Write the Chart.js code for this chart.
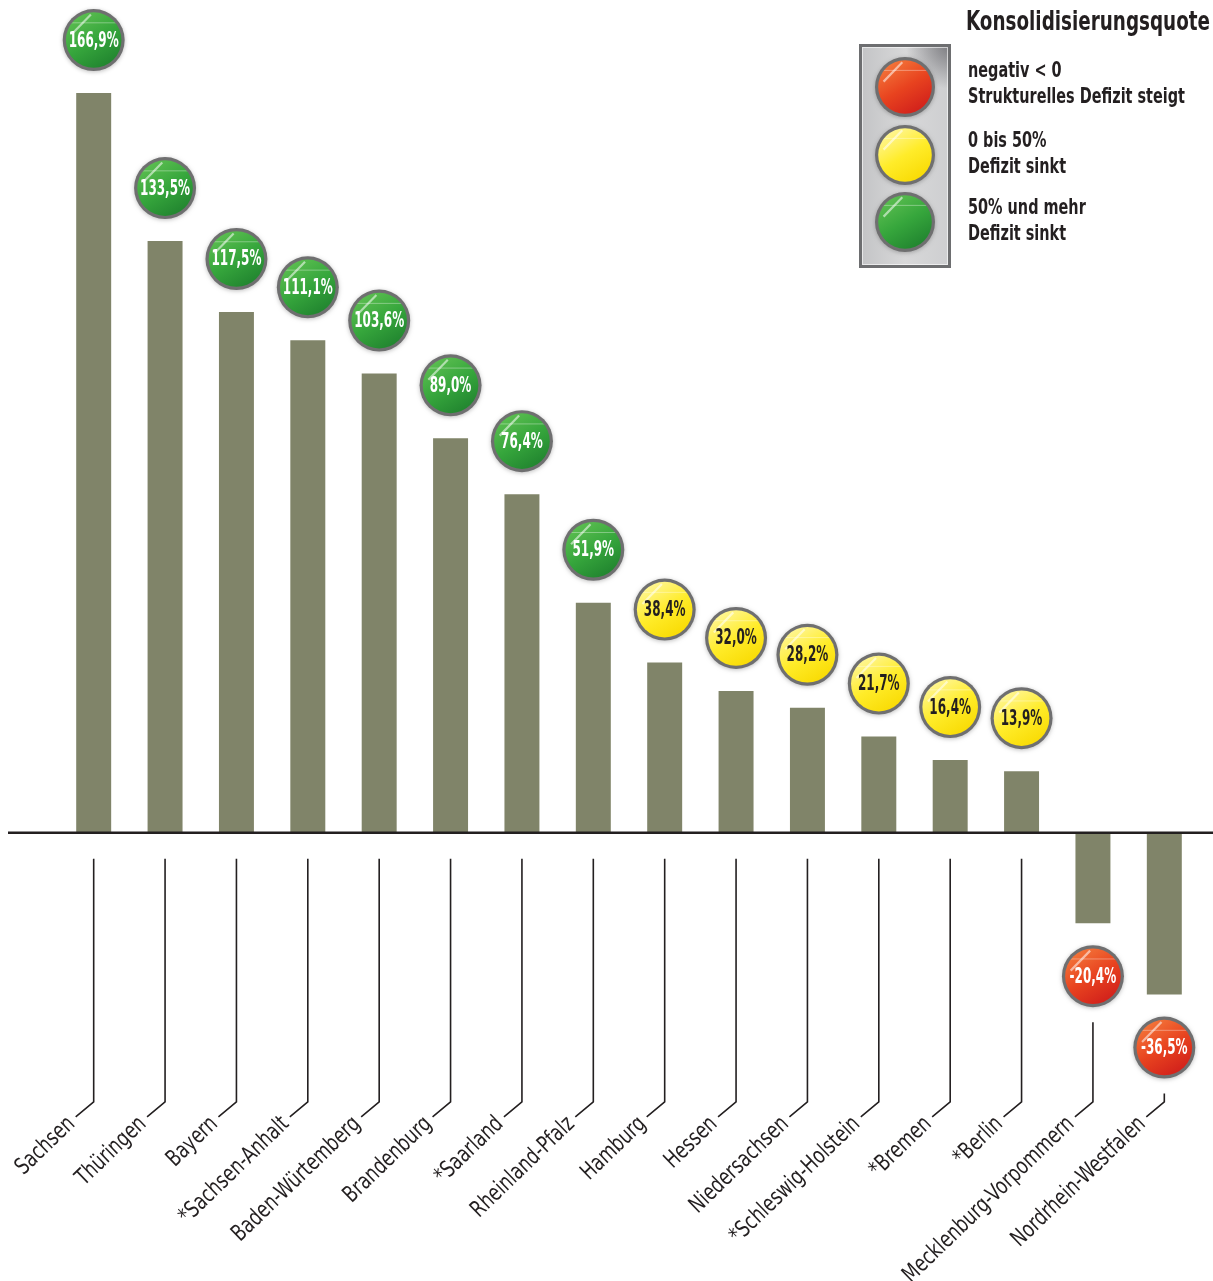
<!DOCTYPE html>
<html>
<head>
<meta charset="utf-8">
<script src="https://cdn.jsdelivr.net/npm/chart.js@4"></script>
<style>
  html, body { margin: 0; padding: 0; background: #ffffff; }
  #wrap { width: 1213px; height: 1281px; }
</style>
</head>
<body>
<div id="wrap"><canvas id="c" width="1213" height="1281"></canvas></div>
<script>
// ---- data ----
const categories = ['Sachsen', 'Thüringen', 'Bayern', '*Sachsen-Anhalt', 'Baden-Würtemberg', 'Brandenburg',
  '*Saarland', 'Rheinland-Pfalz', 'Hamburg', 'Hessen', 'Niedersachsen', '*Schleswig-Holstein',
  '*Bremen', '*Berlin', 'Mecklenburg-Vorpommern', 'Nordrhein-Westfalen'];
const values = [166.9, 133.5, 117.5, 111.1, 103.6, 89.0, 76.4, 51.9, 38.4, 32.0, 28.2, 21.7, 16.4, 13.9, -20.4, -36.5];
const legendTitle = 'Konsolidisierungsquote';
const legendLines = [
  ['negativ < 0', 'Strukturelles Defizit steigt'],
  ['0 bis 50%', 'Defizit sinkt'],
  ['50% und mehr', 'Defizit sinkt']
];
const thresholds = [0, 50];

// ---- styling ----
const NARROW = '"Liberation Sans Narrow", "DejaVu Sans Condensed", "Arial Narrow", sans-serif';
const BAR_COLOR = '#808469';
const INK = '#231f20';
const palettes = {
  red:    { stops: ['#f47a3c', '#e8431f', '#cf1d1b'], text: '#ffffff' },
  yellow: { stops: ['#fff7a0', '#ffec2a', '#f8d900'], text: '#231f20' },
  green:  { stops: ['#5fc052', '#36a63c', '#1f812e'], text: '#ffffff' }
};
function classify(v) {
  if (v < thresholds[0]) return 'red';
  if (v < thresholds[1]) return 'yellow';
  return 'green';
}
function fmt(v) { return v.toFixed(1).replace('.', ',') + '%'; }

function fitScale(ctx, font, sample, target) {
  ctx.save();
  ctx.font = font;
  const w = ctx.measureText(sample).width;
  ctx.restore();
  return Math.min(1, target / w);
}

function drawBall(ctx, x, y, r, kind) {
  const p = palettes[kind];
  ctx.save();
  ctx.shadowColor = 'rgba(0,0,0,0.25)';
  ctx.shadowBlur = 4;
  ctx.shadowOffsetY = 1;
  ctx.beginPath();
  ctx.arc(x, y, r, 0, Math.PI * 2);
  ctx.fillStyle = '#6f6f70';
  ctx.fill();
  ctx.restore();
  const ri = r - 3.2;
  const g = ctx.createLinearGradient(x - ri * 0.6, y - ri, x + ri * 0.6, y + ri);
  g.addColorStop(0, p.stops[0]);
  g.addColorStop(0.5, p.stops[1]);
  g.addColorStop(1, p.stops[2]);
  ctx.beginPath();
  ctx.arc(x, y, ri, 0, Math.PI * 2);
  ctx.fillStyle = g;
  ctx.fill();
  // gloss highlight
  ctx.save();
  ctx.beginPath();
  ctx.arc(x, y, ri, 0, Math.PI * 2);
  ctx.clip();
  ctx.strokeStyle = 'rgba(255,255,255,0.55)';
  ctx.lineWidth = 2.2;
  ctx.beginPath();
  ctx.moveTo(x - ri * 0.8, y - ri * 0.2);
  ctx.lineTo(x - ri * 0.1, y - ri * 0.92);
  ctx.stroke();
  ctx.strokeStyle = 'rgba(255,255,255,0.35)';
  ctx.lineWidth = 1;
  ctx.beginPath();
  ctx.moveTo(x - ri, y - ri * 0.62);
  ctx.lineTo(x + ri, y - ri * 0.62);
  ctx.stroke();
  ctx.restore();
}

function condensedText(ctx, text, x, y, font, sx, align) {
  ctx.save();
  ctx.font = font;
  ctx.textAlign = align || 'left';
  ctx.translate(x, y);
  ctx.scale(sx, 1);
  ctx.fillText(text, 0, 0);
  ctx.restore();
}

const overlay = {
  id: 'overlay',
  afterDatasetsDraw(chart) {
    const ctx = chart.ctx;
    const meta = chart.getDatasetMeta(0);
    const yScale = chart.scales.y;
    const zeroY = yScale.getPixelForValue(0);
    const elbowY = zeroY + 269;
    const OFFSET = 53, R = 31;

    const ballFont = 'bold 21px ' + NARROW;
    const ballSx = fitScale(ctx, ballFont, '166,9%', 50);
    const labelFont = '23px ' + NARROW;
    const labelSx = fitScale(ctx, labelFont, 'Mecklenburg-Vorpommern', 228);
    const legFont = 'bold 21px ' + NARROW;
    const legSx = fitScale(ctx, legFont, legendLines[0][1], 217);
    const titleFont = 'bold 27px ' + NARROW;
    const titleSx = fitScale(ctx, titleFont, legendTitle, 244);

    // zero line
    ctx.save();
    ctx.strokeStyle = INK;
    ctx.lineWidth = 2.5;
    ctx.beginPath();
    ctx.moveTo(8, zeroY);
    ctx.lineTo(chart.width, zeroY);
    ctx.stroke();
    ctx.restore();

    meta.data.forEach((bar, i) => {
      const v = values[i];
      const x = bar.x;
      const cy = v >= 0 ? bar.y - OFFSET : bar.y + OFFSET;
      const kind = classify(v);
      drawBall(ctx, x, cy, R, kind);
      ctx.fillStyle = palettes[kind].text;
      ctx.textBaseline = 'middle';
      condensedText(ctx, fmt(v), x, cy + 1, ballFont, ballSx, 'center');

      // leader line
      const topY = v >= 0 ? zeroY + 26 : cy + R + 15;
      ctx.save();
      ctx.strokeStyle = INK;
      ctx.lineWidth = 1.6;
      ctx.beginPath();
      ctx.moveTo(x, topY);
      ctx.lineTo(x, elbowY);
      ctx.lineTo(x - 18, elbowY + 15);
      ctx.stroke();
      ctx.restore();

      // rotated category label
      ctx.save();
      ctx.fillStyle = INK;
      ctx.translate(x - 22, elbowY + 19);
      ctx.rotate(-44 * Math.PI / 180);
      ctx.font = labelFont;
      ctx.textAlign = 'right';
      ctx.textBaseline = 'middle';
      ctx.scale(labelSx, 1);
      ctx.fillText(categories[i], 0, 0);
      ctx.restore();
    });

    // legend: traffic light
    ctx.save();
    const bx = 859, by = 44, bw = 92, bh = 224;
    const bg = ctx.createLinearGradient(bx, by, bx + bw, by);
    bg.addColorStop(0, '#c2c3c5');
    bg.addColorStop(0.5, '#d8d8d9');
    bg.addColorStop(1, '#cdced0');
    ctx.fillStyle = bg;
    ctx.fillRect(bx, by, bw, bh);
    const cg = ctx.createRadialGradient(bx + bw, by, 0, bx + bw, by, 45);
    cg.addColorStop(0, 'rgba(90,90,95,0.75)');
    cg.addColorStop(1, 'rgba(90,90,95,0)');
    ctx.fillStyle = cg;
    ctx.fillRect(bx, by, bw, bh);
    ctx.strokeStyle = '#6d6e70';
    ctx.lineWidth = 3;
    ctx.strokeRect(bx + 1.5, by + 1.5, bw - 3, bh - 3);
    ctx.strokeStyle = 'rgba(255,255,255,0.6)';
    ctx.lineWidth = 1;
    ctx.strokeRect(bx + 3.5, by + 3.5, bw - 7, bh - 7);
    ctx.restore();
    const lightKinds = ['red', 'yellow', 'green'];
    const lightY = [87, 155, 222];
    lightKinds.forEach((k, j) => drawBall(ctx, 905, lightY[j], 30, k));

    // legend texts
    ctx.fillStyle = INK;
    ctx.textBaseline = 'middle';
    condensedText(ctx, legendTitle, 966, 23, titleFont, titleSx, 'left');
    const rowY = [[72, 98], [142, 168], [209, 235]];
    legendLines.forEach((pair, j) => {
      pair.forEach((t, k) => condensedText(ctx, t, 968, rowY[j][k], legFont, legSx, 'left'));
    });
  }
};

new Chart(document.getElementById('c'), {
  type: 'bar',
  data: {
    labels: categories,
    datasets: [{
      data: values,
      backgroundColor: BAR_COLOR,
      borderWidth: 0,
      barPercentage: 0.49,
      categoryPercentage: 1.0
    }]
  },
  options: {
    responsive: false,
    animation: false,
    events: [],
    layout: { padding: { top: 35, bottom: 5, left: 58, right: 13 } },
    plugins: { legend: { display: false }, tooltip: { enabled: false } },
    scales: {
      x: { display: false },
      y: { display: false, min: -100, max: 180 }
    }
  },
  plugins: [overlay]
});
</script>
</body>
</html>
